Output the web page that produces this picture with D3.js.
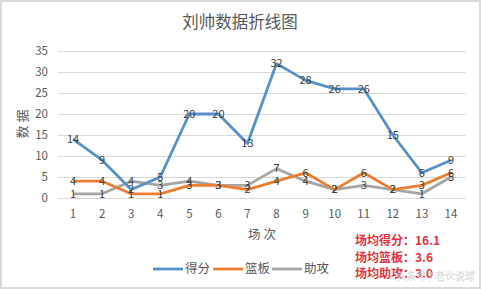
<!DOCTYPE html>
<html>
<head>
<meta charset="utf-8">
<script src="https://cdn.jsdelivr.net/npm/d3@7"></script>
<style>
  body { margin: 0; background: #fff; }
  svg { display: block; font-family: "Noto Sans CJK SC", "Noto Sans", sans-serif; }
</style>
</head>
<body>
<svg id="chart" width="481" height="289"></svg>
<script>
// data
const games = [1, 2, 3, 4, 5, 6, 7, 8, 9, 10, 11, 12, 13, 14];
const points = [14, 9, 2, 5, 20, 20, 13, 32, 28, 26, 26, 15, 6, 9];
const rebounds = [4, 4, 1, 1, 3, 3, 2, 4, 6, 2, 6, 2, 3, 6];
const assists = [1, 1, 4, 3, 4, 3, 3, 7, 4, 2, 3, 2, 1, 5];
const seriesNames = ['得分', '篮板', '助攻'];
const seriesColors = ['#5592cc', '#ed7d31', '#a5a5a5'];
const yTicks = [0, 5, 10, 15, 20, 25, 30, 35];
const notes = ['场均得分：16.1', '场均篮板：3.6', '场均助攻：3.0'];

const svg = d3.select('#chart');

// frame
svg.append('rect').attr('x', 1).attr('y', 1).attr('width', 479).attr('height', 287)
  .attr('fill', '#fff').attr('stroke', '#d9d9d9').attr('stroke-width', 2);

const x = d3.scaleBand().domain(games).range([58.5, 465.5]);
const y = d3.scaleLinear().domain([0, 35]).range([198, 51]);

// grid
svg.append('g').selectAll('line').data(yTicks).join('line')
  .attr('x1', 58).attr('x2', 466)
  .attr('y1', d => y(d) + 0.5).attr('y2', d => y(d) + 0.5)
  .attr('stroke', '#d9d9d9').attr('stroke-width', 1);

// y tick labels
svg.append('g').selectAll('text').data(yTicks).join('text')
  .attr('x', 48).attr('y', d => y(d)).attr('dy', '0.35em')
  .attr('text-anchor', 'end').attr('font-size', 11.5).attr('fill', '#595959')
  .text(d => d);

// x tick labels
svg.append('g').selectAll('text').data(games).join('text')
  .attr('x', d => x(d) + x.bandwidth() / 2).attr('y', 214).attr('dy', '0.35em')
  .attr('text-anchor', 'middle').attr('font-size', 11.5).attr('fill', '#595959')
  .text(d => d);

// title
svg.append('text').attr('x', 240).attr('y', 28).attr('text-anchor', 'middle')
  .attr('font-size', 16.5).attr('fill', '#595959').text('刘帅数据折线图');

// axis titles
svg.append('text').attr('x', 262).attr('y', 239).attr('text-anchor', 'middle')
  .attr('font-size', 12.5).attr('fill', '#595959').text('场 次');
svg.append('text').attr('transform', 'translate(27,124) rotate(-90)')
  .attr('text-anchor', 'middle').attr('font-size', 13).attr('fill', '#595959').text('数 据');

const allSeries = [points, rebounds, assists];
const line = d3.line()
  .x((d, i) => x(games[i]) + x.bandwidth() / 2)
  .y(d => y(d));

// gray first, then orange, blue on top
[2, 1, 0].forEach(k => {
  svg.append('path').datum(allSeries[k])
    .attr('d', line).attr('fill', 'none')
    .attr('stroke', seriesColors[k]).attr('stroke-width', 2.8)
    .attr('stroke-linejoin', 'round');
});

// data labels
[2, 1, 0].forEach(k => {
  svg.append('g').selectAll('text').data(allSeries[k]).join('text')
    .attr('x', (d, i) => x(games[i]) + x.bandwidth() / 2)
    .attr('y', d => y(d)).attr('dy', '0.35em')
    .attr('text-anchor', 'middle').attr('font-size', 11).attr('fill', '#404040')
    .text(d => d);
});

// legend
const legend = svg.append('g');
const legX = [153, 213, 272];
seriesNames.forEach((name, k) => {
  legend.append('line').attr('x1', legX[k]).attr('x2', legX[k] + 30)
    .attr('y1', 269).attr('y2', 269)
    .attr('stroke', seriesColors[k]).attr('stroke-width', 2.8);
  legend.append('text').attr('x', legX[k] + 32).attr('y', 269).attr('dy', '0.35em')
    .attr('font-size', 12.5).attr('fill', '#595959').text(name);
});

// averages
svg.append('g').selectAll('text').data(notes).join('text')
  .attr('x', 355).attr('y', (d, i) => 241 + i * 16.5).attr('dy', '0.35em')
  .attr('font-size', 12).attr('font-weight', 'bold').attr('fill', '#e8303c')
  .text(d => d);

// watermark
svg.append('text').attr('x', 475).attr('y', 280).attr('text-anchor', 'end')
  .attr('font-size', 10).attr('fill', '#fff').attr('fill-opacity', 0.85)
  .attr('stroke', '#999').attr('stroke-width', 0.3).attr('stroke-opacity', 0.6)
  .text('头条号 / 老伙说球');
</script>
</body>
</html>
